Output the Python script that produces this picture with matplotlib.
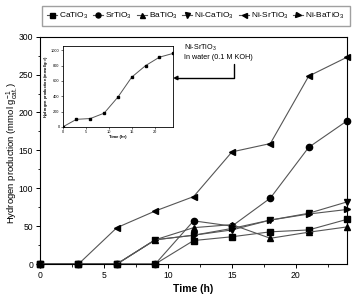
import numpy as np
import matplotlib.pyplot as plt

time_h = [0, 3, 6, 9, 12, 15, 18, 21, 24]

ca_tio3 = [0, 0, 0, 0, 31, 36, 42.5, 45, 59]
sr_tio3 = [0, 0, 0, 0, 57, 50, 87, 154, 189]
ba_tio3 = [0, 0, 0, 32, 48, 52, 34, 42, 49]
ni_ca_tio3 = [0, 0, 0, 32, 38, 45, 58, 67, 82]
ni_sr_tio3 = [0, 0, 48, 70, 89, 148, 159, 248, 273]
ni_ba_tio3 = [0, 0, 0, 32, 38, 47, 58, 66, 72]

inset_time = [0, 3, 6, 9, 12, 15, 18, 21, 24]
inset_h2 = [0, 100, 110, 180, 390, 650, 800, 910, 960]

series = [
    ("CaTiO$_3$", ca_tio3, "s"),
    ("SrTiO$_3$", sr_tio3, "o"),
    ("BaTiO$_3$", ba_tio3, "^"),
    ("Ni-CaTiO$_3$", ni_ca_tio3, "v"),
    ("Ni-SrTiO$_3$", ni_sr_tio3, "<"),
    ("Ni-BaTiO$_3$", ni_ba_tio3, ">"),
]

plt.rcParams['font.family'] = ['Liberation Sans', 'DejaVu Sans']
plt.rcParams['mathtext.fontset'] = 'custom'
plt.rcParams['mathtext.rm'] = 'Liberation Sans'

fig = plt.figure(figsize=(3.52, 2.96), dpi=100)
ax = fig.add_axes([0.114, 0.108, 0.872, 0.768])

handles = []
for name, vals, mk in series:
    h, = ax.plot(time_h, vals, color='#555555', lw=0.8, marker=mk,
                 ms=4.5, mfc='black', mec='black', clip_on=False, label=name)
    handles.append(h)

ax.set_xlim(0, 24)
ax.set_ylim(0, 300)
ax.set_xticks([0, 5, 10, 15, 20])
ax.set_xticks(np.arange(0, 25, 2.5), minor=True)
ax.set_yticks(np.arange(0, 301, 50))
ax.set_yticks(np.arange(0, 301, 25), minor=True)
ax.tick_params(labelsize=6.2, length=3, width=0.7, pad=2)
ax.tick_params(which='minor', length=1.8, width=0.6)
for s in ax.spines.values():
    s.set_linewidth(0.8)
ax.set_xlabel("Time (h)", fontsize=7.5, fontweight='bold', labelpad=3)
ax.set_ylabel(r"Hydrogen production (mmol g$^{-1}_{\mathrm{cat.}}$)", fontsize=6.8)
ax.yaxis.set_label_coords(-0.066, 0.49)

fig.legend(handles=handles, loc='upper center', bbox_to_anchor=(0.557, 0.995),
           ncol=6, fontsize=6, frameon=True, fancybox=False, edgecolor='#888888',
           handlelength=1.2, handletextpad=0.25, columnspacing=0.55,
           borderpad=0.6, markerscale=0.8)

# inset
axin = fig.add_axes([0.178, 0.571, 0.314, 0.272])
axin.plot(inset_time, inset_h2, color='#555555', lw=0.7, marker='s', ms=1.5,
          mfc='black', mec='black')
axin.set_xlim(0, 24)
axin.set_ylim(0, 1050)
axin.set_xticks([0, 5, 10, 15, 20])
axin.set_yticks([0, 200, 400, 600, 800, 1000])
axin.tick_params(labelsize=2.8, length=1.2, width=0.4, pad=1)
for s in axin.spines.values():
    s.set_linewidth(0.6)
axin.set_xlabel("Time (hr)", fontsize=3, fontweight='bold', labelpad=1)
axin.set_ylabel("Hydrogen production (mmol/g$_{cat}$)", fontsize=2.8,
                fontweight='bold', labelpad=1)

ax.annotate("Ni-SrTiO$_3$\nIn water (0.1 M KOH)", xy=(173 / 352, 1 - 78 / 296),
            xycoords='figure fraction', xytext=(184 / 352, 1 - 52 / 296),
            textcoords='figure fraction', fontsize=5.2, va='center', ha='left',
            arrowprops=dict(arrowstyle='-|>', color='black', lw=1.0,
                            connectionstyle='angle,angleA=90,angleB=0,rad=0',
                            shrinkA=0, shrinkB=0, mutation_scale=6,
                            relpos=(0.73, 0.0)))

fig.savefig("out.png", dpi=100)
